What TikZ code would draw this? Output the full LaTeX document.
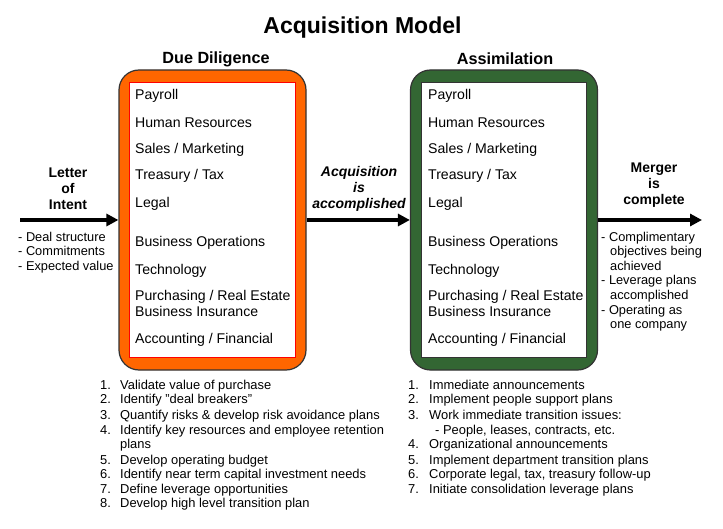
\documentclass[tikz,border=0pt]{standalone}
\usepackage{fontspec}
\setmainfont{Liberation Sans}
\usetikzlibrary{arrows.meta}
\definecolor{ddorange}{RGB}{255,102,0}
\definecolor{asgreen}{RGB}{51,102,51}
\begin{document}
\begin{tikzpicture}[x=1pt, y=-1pt,
outer/.style={rectangle, rounded corners=20pt, draw=black!80, line width=1.2pt, minimum width=187pt, minimum height=300pt, inner sep=0pt},
inner/.style={rectangle, fill=white, line width=1pt, minimum width=166pt, minimum height=274pt, inner sep=0pt},
item/.style={anchor=west, inner sep=0pt, text height=10pt, text depth=3pt, font=\fontsize{14.1}{16}\selectfont},
head/.style={inner sep=0pt, font=\fontsize{16.2}{19}\selectfont\bfseries},
flowlbl/.style={align=center, inner sep=0pt, font=\fontsize{14}{16}\selectfont\bfseries},
note/.style={align=left, anchor=west, inner sep=0pt, font=\fontsize{12.8}{14.6}\selectfont},
lst/.style={anchor=west, inner sep=0pt, text height=9pt, text depth=3pt, font=\fontsize{12.9}{14.6}\selectfont},
flow/.style={line width=3.5pt, -{Triangle[length=12pt,width=12pt]}}
]
\fill[white] (0,0) rectangle (723,529);
\useasboundingbox (0,0) rectangle (723,529);
\node[inner sep=0pt, font=\fontsize{23}{27}\selectfont\bfseries] (title) at (362.5,28){Acquisition Model};
\node[head] (ddhead) at (216,59){Due Diligence};
\node[head] (ashead) at (505,59){Assimilation};
\node[outer, fill=ddorange] (dd) at (212.5,220){};
\node[inner, draw=red] (ddin) at (212,220){};
\node[outer, fill=asgreen] (as) at (504,220){};
\node[inner, draw=black!80, minimum width=165pt] (asin) at (503.5,220){};
\node[item] (dd0) at (135,96.5){Payroll};
\node[item] (dd1) at (135,124.5){Human Resources};
\node[item] (dd2) at (135,150.5){Sales / Marketing};
\node[item] (dd3) at (135,176.5){Treasury / Tax};
\node[item] (dd4) at (135,204.5){Legal};
\node[item] (dd5) at (135,243.5){Business Operations};
\node[item] (dd6) at (135,271.5){Technology};
\node[item] (dd7) at (135,297.5){Purchasing / Real Estate};
\node[item] (dd8) at (135,313.5){Business Insurance};
\node[item] (dd9) at (135,340.5){Accounting / Financial};
\node[item] (as0) at (428,96.5){Payroll};
\node[item] (as1) at (428,124.5){Human Resources};
\node[item] (as2) at (428,150.5){Sales / Marketing};
\node[item] (as3) at (428,176.5){Treasury / Tax};
\node[item] (as4) at (428,204.5){Legal};
\node[item] (as5) at (428,243.5){Business Operations};
\node[item] (as6) at (428,271.5){Technology};
\node[item] (as7) at (428,297.5){Purchasing / Real Estate};
\node[item] (as8) at (428,313.5){Business Insurance};
\node[item] (as9) at (428,340.5){Accounting / Financial};
\coordinate (lin) at (20,220);
\coordinate (mout) at (702,220);
\draw[flow](lin) -- (dd);
\draw[flow](dd) -- (as);
\draw[flow](as) -- (mout);
\node[flowlbl] (loi) at (68,189){Letter\\of\\Intent};
\node[flowlbl, font=\fontsize{14}{16}\selectfont\bfseries\itshape] (acq) at (359,189){Acquisition\\is\\accomplished};
\node[flowlbl] (mrg) at (654,185){Merger\\is\\complete};
\node[note] (loinote) at (18,252.5){- Deal structure\\- Commitments\\- Expected value};
\node[note] (mrgnote) at (601,281.5){- Complimentary\\\hspace*{9pt}objectives being\\\hspace*{9pt}achieved\\- Leverage plans\\\hspace*{9pt}accomplished\\- Operating as\\\hspace*{9pt}one company};
\node[lst] (dn1) at (100,386){1.};
\node[lst] (dt1) at (120,386){Validate value of purchase};
\node[lst] (dn2) at (100,400){2.};
\node[lst] (dt2) at (120,400){Identify "deal breakers"};
\node[lst] (dn3) at (100,416){3.};
\node[lst] (dt3) at (120,416){Quantify risks \& develop risk avoidance plans};
\node[lst] (dn4) at (100,431){4.};
\node[lst] (dt4) at (120,431){Identify key resources and employee retention};
\node[lst] (dt4b) at (120,445){plans};
\node[lst] (dn5) at (100,461){5.};
\node[lst] (dt5) at (120,461){Develop operating budget};
\node[lst] (dn6) at (100,475){6.};
\node[lst] (dt6) at (120,475){Identify near term capital investment needs};
\node[lst] (dn7) at (100,490){7.};
\node[lst] (dt7) at (120,490){Define leverage opportunities};
\node[lst] (dn8) at (100,504){8.};
\node[lst] (dt8) at (120,504){Develop high level transition plan};
\node[lst] (an1) at (408,386){1.};
\node[lst] (at1) at (429,386){Immediate announcements};
\node[lst] (an2) at (408,400){2.};
\node[lst] (at2) at (429,400){Implement people support plans};
\node[lst] (an3) at (408,416){3.};
\node[lst] (at3) at (429,416){Work immediate transition issues:};
\node[lst] (at3b) at (435,431){- People, leases, contracts, etc.};
\node[lst] (an4) at (408,445){4.};
\node[lst] (at4) at (429,445){Organizational announcements};
\node[lst] (an5) at (408,461){5.};
\node[lst] (at5) at (429,461){Implement department transition plans};
\node[lst] (an6) at (408,475){6.};
\node[lst] (at6) at (429,475){Corporate legal, tax, treasury follow-up};
\node[lst] (an7) at (408,490){7.};
\node[lst] (at7) at (429,490){Initiate consolidation leverage plans};
\end{tikzpicture}
\end{document}
